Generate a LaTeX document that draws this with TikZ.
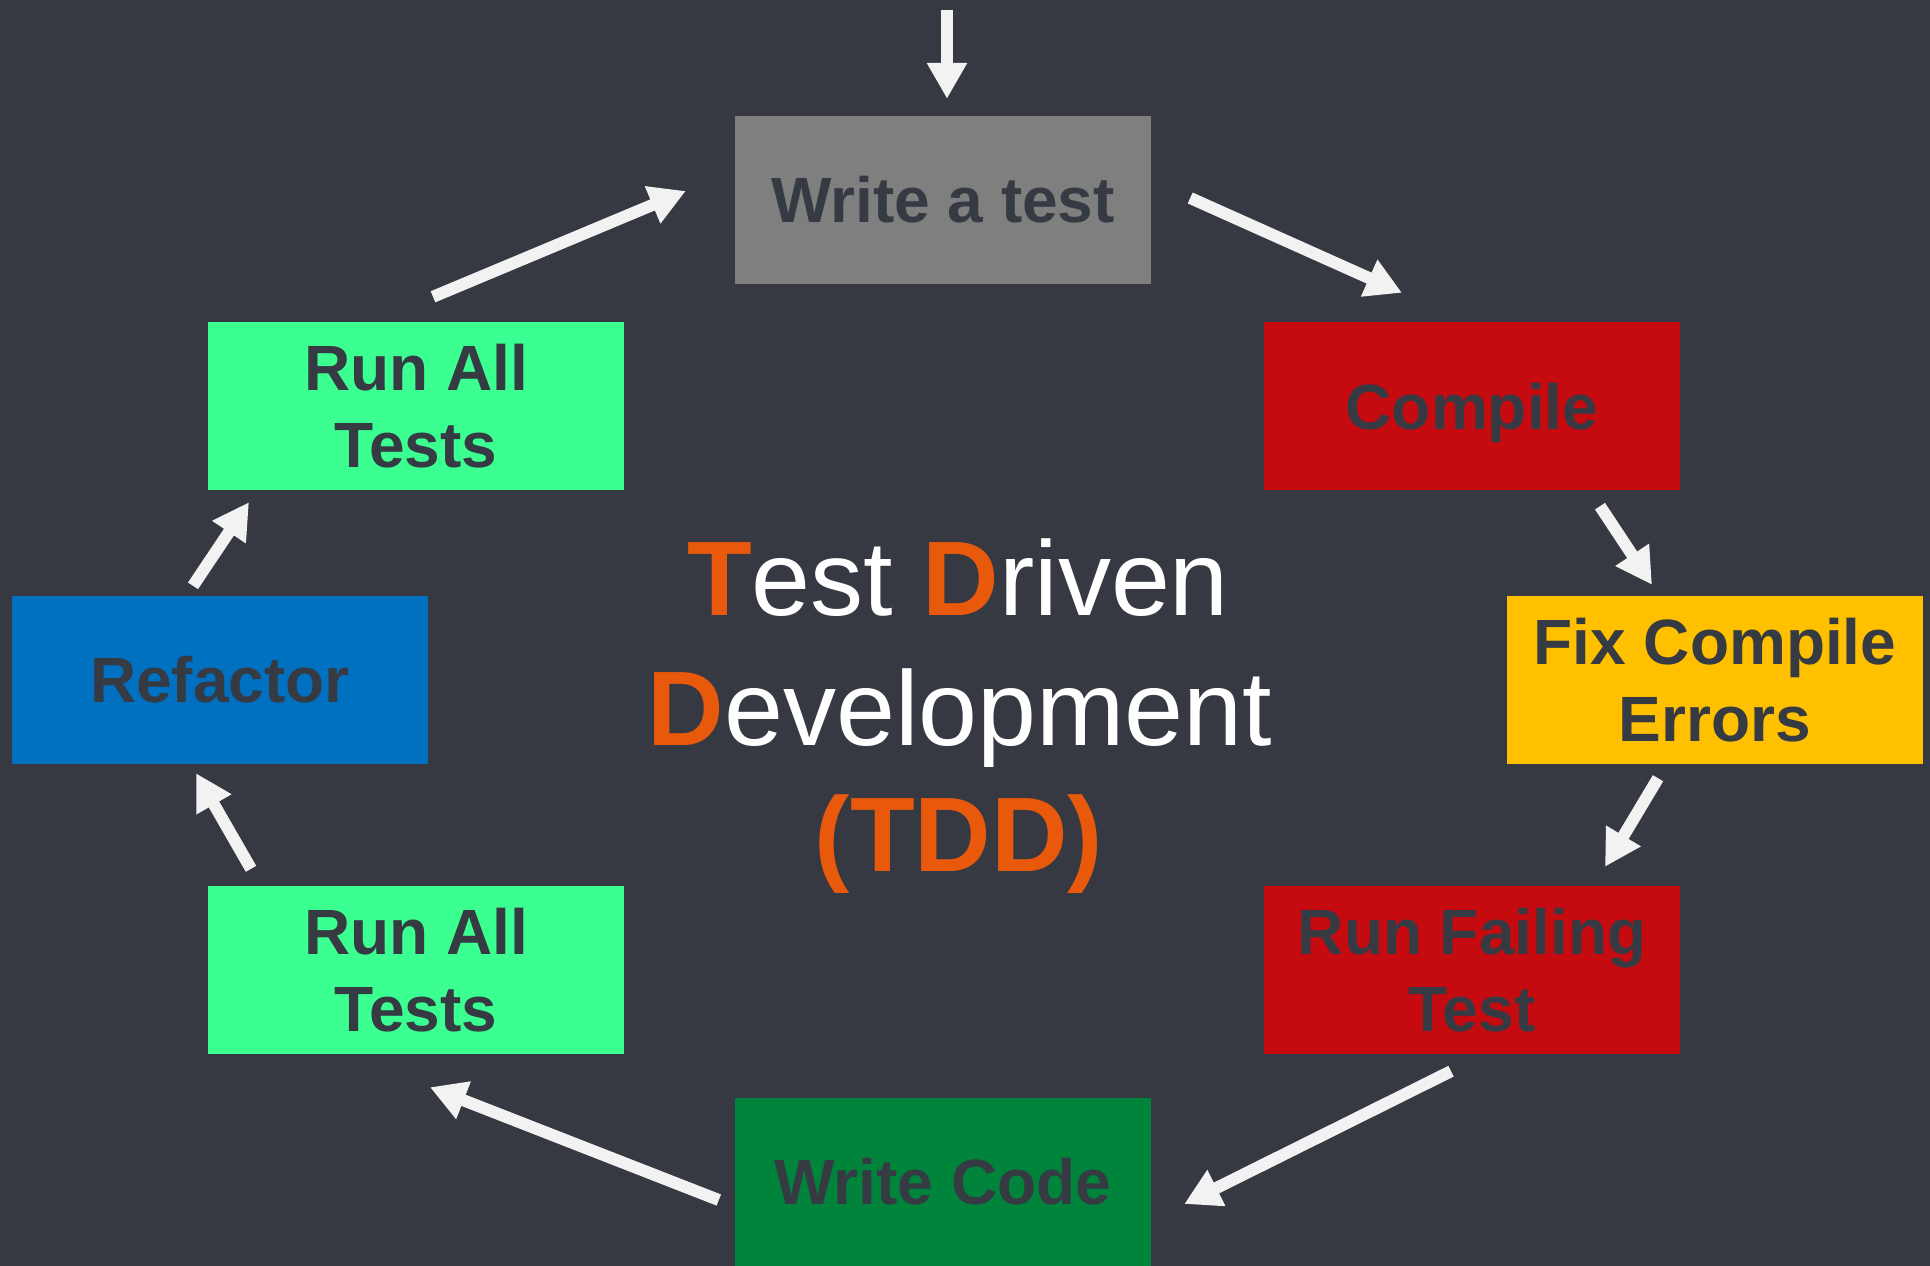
\documentclass[tikz,border=0pt]{standalone}
\usepackage{fontspec}
\setmainfont{Liberation Sans}
\usetikzlibrary{arrows.meta,calc}
\definecolor{bg}{HTML}{363942}
\definecolor{boxtext}{HTML}{363A43}
\definecolor{arrowc}{HTML}{F2F2F2}
\definecolor{cgray}{HTML}{7F7F7F}
\definecolor{cred}{HTML}{C50B10}
\definecolor{cyellow}{HTML}{FFC000}
\definecolor{clgreen}{HTML}{3BFF91}
\definecolor{cblue}{HTML}{0070C0}
\definecolor{cdgreen}{HTML}{00843C}
\definecolor{corange}{HTML}{E8590C}
\begin{document}
\begin{tikzpicture}[x=1pt,y=-1pt,
  box/.style={minimum width=416pt,minimum height=168pt,inner sep=0pt,align=center,
    text=boxtext,font=\fontsize{64}{77}\selectfont\bfseries},
  arr/.style={draw=arrowc,line width=12pt,-{Triangle[length=36pt,width=38pt]}},
  title/.style={anchor=base,inner sep=0pt,text=white,font=\fontsize{106}{128}\selectfont}]
\fill[bg] (0,0) rectangle (1930,1266);
\useasboundingbox (0,0) rectangle (1930,1266);

\node[box,fill=cgray]   (wt)  at (943,200)  {Write a test};
\node[box,fill=cred,text depth=0pt] (cp)  at (1472,406) {Compile};
\node[box,fill=cyellow] (fx)  at (1715,680) {Fix Compile\\Errors};
\node[box,fill=cred]    (rf)  at (1472,970) {Run Failing\\Test};
\node[box,fill=cdgreen] (wc)  at (943,1182) {Write Code};
\node[box,fill=clgreen] (ra2) at (416,970)  {Run All\\Tests};
\node[box,fill=cblue]   (rfc) at (220,680)  {Refactor};
\node[box,fill=clgreen] (ra1) at (416,406)  {Run All\\Tests};

\node[title] (t1) at (958,615) {\textcolor{corange}{\bfseries T}est \textcolor{corange}{\bfseries D}riven};
\node[title] (t2) at (960,745) {\textcolor{corange}{\bfseries D}evelopment};
\node[title,text=corange,font=\fontsize{106}{128}\selectfont\bfseries] (t3) at (959,871) {(TDD)};

\coordinate (start) at (947,10);
\draw[arr] (start) -- ($(wt.north)+(4,-17)$);
\draw[arr] ($(wt.east)+(39,-2)$) -- ($(cp.north)+(-70,-29)$);
\draw[arr] ($(cp.south)+(128,16)$) -- ($(fx.north)+(-63,-11)$);
\draw[arr] ($(fx.south)+(-57,14)$) -- ($(rf.north)+(133,-19)$);
\draw[arr] ($(rf.south)+(-21,17)$) -- ($(wc.east)+(33,22)$);
\draw[arr] ($(wc.west)+(-16,18)$) -- ($(ra2.south)+(14,33)$);
\draw[arr] ($(ra2.north)+(-165,-17)$) -- ($(rfc.south)+(-24,9)$);
\draw[arr] ($(rfc.north)+(-27,-10)$) -- ($(ra1.south)+(-167,12)$);
\draw[arr] ($(ra1.north)+(17,-25)$) -- ($(wt.west)+(-49,-9)$);
\end{tikzpicture}
\end{document}
